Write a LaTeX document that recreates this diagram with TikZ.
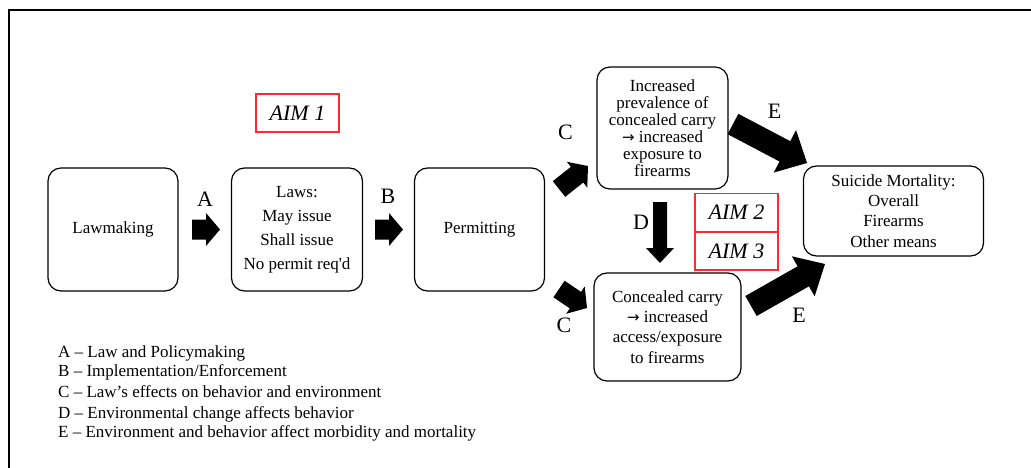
\documentclass[tikz,border=0pt]{standalone}
\usepackage{fontspec}
\setmainfont{Liberation Serif}
\newfontfamily\arrowfont{DejaVu Sans}
\usetikzlibrary{calc}
\definecolor{aimred}{RGB}{250,45,45}
\newcommand\rarr{{\arrowfont\fontsize{15}{17}\selectfont →}}
% block arrow: #1 tail coord, #2 tip coord, #3 shaft half width, #4 head half width, #5 head length
\newcommand\blockarr[5]{%
  \path ($(#2)!#5!(#1)$) coordinate (hb);
  \fill[arrowfill] ($(#1)!#3!90:(#2)$) -- ($(hb)!#3!-90:(#1)$) -- ($(hb)!#4!-90:(#1)$)
    -- (#2) -- ($(hb)!#4!90:(#1)$) -- ($(hb)!#3!90:(#1)$) -- ($(#1)!#3!-90:(#2)$) -- cycle;}
\begin{document}
\begin{tikzpicture}[x=1pt,y=-1pt,
  box/.style={draw, line width=1.2pt, rounded corners=13pt, align=center, inner sep=0pt},
  aimbox/.style={draw=aimred, line width=1.5pt, font=\fontsize{22}{26}\itshape, inner sep=0pt,
    minimum width=83pt, minimum height=38pt},
  lbl/.style={font=\fontsize{22}{26}\selectfont, inner sep=0pt},
  leg/.style={anchor=base west, font=\fontsize{17}{20}\selectfont, inner sep=0pt},
  arrowfill/.style={fill=black}]
\useasboundingbox (0,0) rectangle (1031,468);
\fill[white] (0,0) rectangle (1031,468);
% frame
\draw[line width=2.5pt] (9,468) -- (9,10) -- (1031,10);

% boxes
\node[box, minimum width=130pt, minimum height=123pt, font=\fontsize{17}{24}\selectfont] (law) at (113,229.5) {Lawmaking};
\node[box, minimum width=131pt, minimum height=123pt, font=\fontsize{17}{24}\selectfont] (laws) at (297,229.5)
  {Laws:\\May issue\\Shall issue\\No permit req\textquotesingle d};
\node[box, minimum width=130pt, minimum height=123pt, font=\fontsize{17}{24}\selectfont] (perm) at (479.5,229.5) {Permitting};
\node[box, minimum width=131pt, minimum height=122pt, font=\fontsize{17}{17.1}\selectfont] (up) at (662.5,128)
  {Increased\\prevalence of\\concealed carry\\\rarr\ increased\\exposure to\\firearms};
\node[box, minimum width=147pt, minimum height=108pt, font=\fontsize{17}{20.3}\selectfont] (low) at (667.5,327)
  {Concealed carry\\\rarr\ increased\\access/exposure\\to firearms};
\node[box, minimum width=180pt, minimum height=90pt, font=\fontsize{17}{20.3}\selectfont] (sui) at (893.5,211)
  {Suicide Mortality:\\Overall\\Firearms\\Other means};

% aims
\node[aimbox] (aim1) at (297.5,113) {AIM 1};
\node[aimbox] (aim2) at (736.5,212.5) {AIM 2};
\node[aimbox] (aim3) at (736.5,251) {AIM 3};

% arrow coordinates
\coordinate (aT) at (192,229.5); \coordinate (aH) at (220,229.5);
\coordinate (bT) at (375,229.5); \coordinate (bH) at (403,229.5);
\coordinate (c1T) at (559,189);  \coordinate (c1H) at (588,166);
\coordinate (c2T) at (559,289);  \coordinate (c2H) at (587,308);
\coordinate (dT) at (660,202);   \coordinate (dH) at (660,263);
\coordinate (e1T) at (733,124);  \coordinate (e1H) at (807,163);
\coordinate (e2T) at (751,306);  \coordinate (e2H) at (825,264);

\blockarr{aT}{aH}{10pt}{16.5pt}{14pt}
\blockarr{bT}{bH}{10pt}{16.5pt}{14pt}
\blockarr{c1T}{c1H}{10pt}{16.5pt}{14pt}
\blockarr{c2T}{c2H}{10pt}{16.5pt}{14pt}
\blockarr{dT}{dH}{7pt}{14pt}{15pt}
\blockarr{e1T}{e1H}{11.5pt}{24pt}{25pt}
\blockarr{e2T}{e2H}{11.5pt}{23pt}{25pt}

% arrow labels
\node[lbl] (la) at (205,199.3) {A};
\node[lbl] (lb) at (388,196.7) {B};
\node[lbl] (lc1) at (565.5,132.7) {C};
\node[lbl] (lc2) at (564,325) {C};
\node[lbl] (ld) at (641,222.7) {D};
\node[lbl] (le1) at (774.5,111.7) {E};
\node[lbl] (le2) at (799,315) {E};

% legend
\node[leg] (g1) at (58,357.3) {A – Law and Policymaking};
\node[leg] (g2) at (58,376.7) {B – Implementation/Enforcement};
\node[leg] (g3) at (58,397.3) {C – Law’s effects on behavior and environment};
\node[leg] (g4) at (58,418.3) {D – Environmental change affects behavior};
\node[leg] (g5) at (58,437.3) {E – Environment and behavior affect morbidity and mortality};
\end{tikzpicture}
\end{document}
